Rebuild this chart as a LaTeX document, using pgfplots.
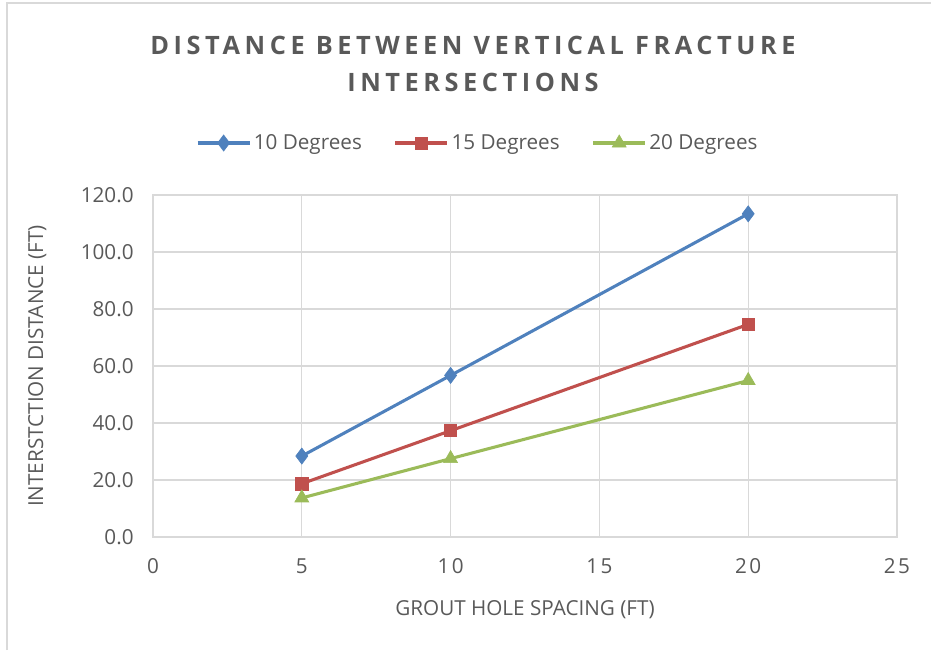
\documentclass[border=0pt]{standalone}
\usepackage{pgfplots}
\pgfplotsset{compat=1.18}
\usepackage{fontspec}
\setmainfont{Open Sans}
\definecolor{txt}{HTML}{595959}
\definecolor{grid}{HTML}{D9D9D9}
\definecolor{cblue}{HTML}{4F81BD}
\definecolor{cred}{HTML}{C0504D}
\definecolor{cgreen}{HTML}{9BBB59}
\begin{document}
\begin{tikzpicture}[x=0.75pt,y=0.75pt]
\useasboundingbox (0,0) rectangle (931,650);
\draw[color=grid,line width=1.5pt] (7,0) -- (7,647) -- (931,647);
\node[font=\fontsize{19}{23}\selectfont\bfseries\addfontfeatures{LetterSpace=18}, text=txt, align=center] at (473,650-64) {DISTANCE BETWEEN VERTICAL FRACTURE\\[5pt]INTERSECTIONS};
\begin{axis}[
  at={(114.75pt,84.75pt)}, anchor=origin,
  scale only axis, width=558pt, height=256.5pt,
  xmin=0, xmax=25, ymin=0, ymax=120,
  xtick={0,5,...,25}, ytick={0,20,...,120},
  grid=major, major grid style={color=grid, line width=0.9pt},
  axis line style={color=grid, line width=0.9pt},
  tick style={draw=none},
  /pgf/number format/assume math mode=true,
  ticklabel style={font=\fontsize{15.5}{18}\selectfont, text=txt},
  xticklabel style={font=\fontsize{15.5}{18}\selectfont\addfontfeatures{LetterSpace=12}, yshift=-12.5pt},
  yticklabel style={/pgf/number format/.cd, fixed, precision=1, zerofill, /tikz/.cd, xshift=-11pt},
  xlabel={GROUT HOLE SPACING (FT)},
  ylabel={INTERSTCTION DISTANCE (FT)},
  label style={font=\fontsize{15.5}{18}\selectfont, text=txt},
  xlabel style={yshift=-13pt},
  ylabel style={yshift=19pt},
  legend columns=3,
  legend style={at={(0.437,1.152)}, anchor=center, draw=none, fill=none,
    font=\fontsize{15.5}{18}\selectfont, text=txt,
    /tikz/every even column/.append style={column sep=22pt}},
  legend image code/.code={%
    \draw[mark repeat=2,mark phase=2] plot coordinates {(0pt,0pt) (19.5pt,0pt) (39pt,0pt)};},
]
\addplot[color=cblue, line width=2.3pt, mark=diamond*, mark size=6pt, mark options={solid, fill=cblue, line width=0.5pt}]
  coordinates {(5,28.4) (10,56.7) (20,113.4)};
\addlegendentry{10 Degrees}
\addplot[color=cred, line width=2.3pt, mark=square*, mark size=4.6pt, mark options={solid, fill=cred, line width=0.5pt}]
  coordinates {(5,18.7) (10,37.3) (20,74.6)};
\addlegendentry{15 Degrees}
\addplot[color=cgreen, line width=2.3pt, mark=triangle*, mark size=6pt, mark options={solid, fill=cgreen, line width=0.5pt}]
  coordinates {(5,13.7) (10,27.5) (20,54.9)};
\addlegendentry{20 Degrees}
\end{axis}
\end{tikzpicture}
\end{document}
